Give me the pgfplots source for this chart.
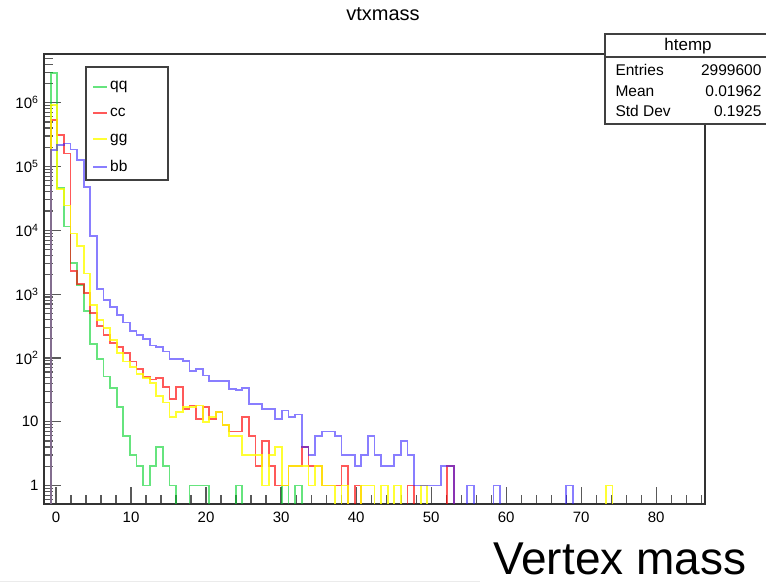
\documentclass[border=0pt]{standalone}
\usepackage{fontspec}
\setmainfont{Liberation Sans}
\usepackage{pgfplots}
\usepackage{pgfplotstable}
\pgfplotsset{compat=1.18}

\definecolor{qqcol}{RGB}{0,210,40}
\definecolor{cccol}{RGB}{255,0,0}
\definecolor{ggcol}{RGB}{255,255,0}
\definecolor{bbcol}{RGB}{40,20,255}

% bin index k, bin left edge = -1.6 + 0.881 k ; empty bins written as 0.1 (below ymin)
\pgfplotstableread{
k   qq      cc      gg      bb
0   0.1     0.1     0.1     0.1
1   2.9e6   5.4e5   9.3e5   1.83e5
2   4.6e4   3.1e5   4.4e4   2.2e5
3   1.15e4  1.6e5   2.45e4  2.3e5
4   3070    2270    8900    1.85e5
5   1400    1460    5600    1.25e5
6   550     1040    2100    4.75e4
7   167     500     682     8200
8   96      320     397     1200
9   51      231     294     817
10  34      171     193     628
11  17      150     119     475
12  6       119     88      360
13  3       88      72      267
14  2       67      56      231
15  1       50      48      198
16  2       46      40      157
17  4       48      25      148
18  2       35      20      126
19  1       23      12      96
20  0.1     35      14      96
21  0.1     16      17      90
22  1       18      17      63
23  1       11      18      67
24  1       17      10      53
25  0.1     11      12      43
26  0.1     14      14      43
27  0.1     9       9       43
28  0.1     7       6       33
29  1       7       6       31
30  0.1     12      3       34
31  0.1     6       3       19
32  0.1     2       3       19
33  0.1     5       1       16
34  0.1     2       3       16
35  0.1     1       4       11
36  1       1       1       15
37  0.1     2       2       12
38  1       2       2       13
39  0.1     4       2       4
40  0.1     2       1       3
41  0.1     2       2       6
42  0.1     1       1       7
43  0.1     1       1       7
44  0.1     1       0.1     6
45  0.1     2       1       3
46  0.1     0.1     0.1     3
47  0.1     1       0.1     2
48  0.1     0.1     1       3
49  0.1     0.1     1       6
50  0.1     0.1     0.1     3
51  0.1     0.1     1       2
52  0.1     0.1     0.1     2
53  0.1     0.1     1       3
54  0.1     0.1     0.1     5
55  0.1     1       0.1     3
56  0.1     0.1     0.1     1
57  0.1     0.1     1       1
58  0.1     0.1     0.1     1
59  0.1     0.1     0.1     1
60  0.1     0.1     0.1     2
61  0.1     2       0.1     2
62  0.1     0.1     0.1     0.1
64  0.1     0.1     0.1     1
65  0.1     0.1     0.1     0.1
68  0.1     0.1     0.1     1
69  0.1     0.1     0.1     0.1
79  0.1     0.1     0.1     1
80  0.1     0.1     0.1     0.1
85  0.1     0.1     1       0.1
86  0.1     0.1     0.1     0.1
100 0.1     0.1     0.1     0.1
}\vtxdata

\begin{document}
\begin{tikzpicture}[x=1pt,y=1pt]
\path[use as bounding box] (0,0) rectangle (766,583);
\begin{axis}[
    at={(44pt,79pt)}, anchor=south west,
    scale only axis, width=661pt, height=450pt,
    xmin=-1.6, xmax=86.5,
    ymode=log, ymin=0.513, ymax=5.8e6,
    axis line style={black!80, line width=1.3pt},
    xtick pos=left, ytick pos=left,
    xtick={0,10,...,80},
    xticklabels={0,10,20,30,40,50,60,70,80},
    minor xtick={2,4,...,86},
    ytick={1,10,100,1000,10000,100000,1000000},
    yticklabels={1,10,10\textsuperscript{2},10\textsuperscript{3},10\textsuperscript{4},10\textsuperscript{5},10\textsuperscript{6}},
    minor ytick={0.6,0.7,0.8,0.9,2,3,4,5,6,7,8,9,20,30,40,50,60,70,80,90,200,300,400,500,600,700,800,900,2000,3000,4000,5000,6000,7000,8000,9000,20000,30000,40000,50000,60000,70000,80000,90000,200000,300000,400000,500000,600000,700000,800000,900000,2000000,3000000,4000000,5000000},
    major tick length=17pt, minor tick length=9pt,
    tick style={black!65, line width=1.2pt},
    ticklabel style={font=\fontsize{15}{18}\selectfont},
    xticklabel style={yshift=-4pt},
    yticklabel style={xshift=-2pt},
    legend style={draw=none, fill=none, at={(axis description cs:0.068,0.948)}, anchor=north west,
        font=\fontsize{15.5}{18}\selectfont, row sep=12.5pt},
    legend cell align=left,
    legend image code/.code={\draw[#1, line width=2pt] (-4pt,0pt) -- (10pt,0pt);},
]
\addplot[const plot, qqcol, line width=1.8pt, draw opacity=0.6]
    table[x expr=-1.6+0.881*\thisrow{k}, y=qq] {\vtxdata};
\addplot[const plot, cccol, line width=1.8pt, draw opacity=0.65]
    table[x expr=-1.6+0.881*\thisrow{k}, y=cc] {\vtxdata};
\addplot[const plot, ggcol, line width=1.8pt, draw opacity=0.8]
    table[x expr=-1.6+0.881*\thisrow{k}, y=gg] {\vtxdata};
\addplot[const plot, bbcol, line width=1.8pt, draw opacity=0.55]
    table[x expr=-1.6+0.881*\thisrow{k}, y=bb] {\vtxdata};
\legend{qq,cc,gg,bb}
\end{axis}
% legend frame
\draw[black!75, line width=1.3pt] (86,516) rectangle (168,403);
% title
\node[font=\fontsize{20}{24}\selectfont] at (383,569) {vtxmass};
% stats box
\draw[black!75, line width=1.3pt, fill=white] (605,549) rectangle (770,459);
\draw[black!75, line width=1.3pt] (605,526) -- (770,526);
\node[font=\fontsize{17}{20}\selectfont] at (688,537) {htemp};
\begin{scope}[every node/.style={font=\fontsize{15.5}{18}\selectfont}]
\node[anchor=west] at (612,513) {Entries};
\node[anchor=east] at (765,513) {2999600};
\node[anchor=west] at (612,492) {Mean};
\node[anchor=east] at (765,492) {0.01962};
\node[anchor=west] at (612,472) {Std Dev};
\node[anchor=east] at (765,472) {0.1925};
\end{scope}
% slide caption
\node[anchor=base west, font=\fontsize{46}{50}\selectfont, inner sep=0pt, text depth=0pt] at (493,8) {Vertex mass};
\draw[black!8, line width=1pt] (0,1) -- (480,1);
\end{tikzpicture}
\end{document}
